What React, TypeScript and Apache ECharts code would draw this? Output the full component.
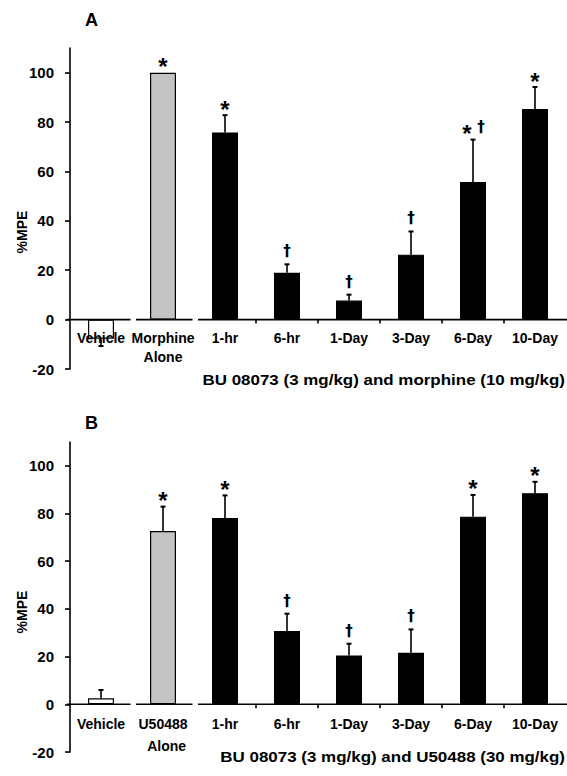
import React, { useEffect, useRef } from "react";
import * as echarts from "echarts";

const categoriesA = ["Vehicle", "Morphine\nAlone", "1-hr", "6-hr", "1-Day", "3-Day", "6-Day", "10-Day"];
const categoriesB = ["Vehicle", "U50488\n  Alone", "1-hr", "6-hr", "1-Day", "3-Day", "6-Day", "10-Day"];
const valuesA = [-7.7, 100, 75.8, 19.0, 7.7, 26.3, 55.7, 85.3];
const errorsA = [3, 0, 7, 3.4, 2.4, 9.4, 17.2, 8.9];
const marksA = ["", "*", "*", "†", "†", "†", "*†", "*"];
const valuesB = [2.5, 72.7, 78.1, 30.7, 20.5, 21.6, 78.7, 88.5];
const errorsB = [3.5, 10.2, 9.5, 7.3, 4.9, 9.8, 9.1, 4.8];
const marksB = ["", "*", "*", "†", "†", "†", "*", "*"];
const groups = ["white", "gray", "black", "black", "black", "black", "black", "black"];
const yTicks = { min: -20, max: 110, interval: 20 };
const segments = [[0, 0, 0], [1, 0, 1], [2, 0, 7]];

const FONT = "Liberation Sans, Arial, sans-serif";
const fillFor: Record<string, string> = { white: "#ffffff", gray: "#c3c3c3", black: "#000000" };

function barData(values: number[]) {
  return values.map((v, i) => ({
    value: v,
    itemStyle: { color: fillFor[groups[i]], borderColor: "#000", borderWidth: 1.2 },
  }));
}

function errorSeries(values: number[], errors: number[], marks: string[], cats: string[], lh: number, axisIndex: number) {
  return {
    type: "custom",
    xAxisIndex: axisIndex,
    yAxisIndex: axisIndex,
    clip: false,
    z: 5,
    itemStyle: { color: "#000" },
    data: values.map((v, i) => [i, v, errors[i]]),
    encode: { x: 0, y: 1 },
    renderItem: (params: any, api: any) => {
      const i = api.value(0);
      const v = api.value(1);
      const e = api.value(2);
      const dir = v < 0 ? -1 : 1;
      const base = api.coord([i, v]);
      const end = api.coord([i, v + dir * e]);
      const zero = api.coord([i, 0]);
      const children: any[] = [];
      if (e > 0) {
        children.push({
          type: "line",
          shape: { x1: base[0], y1: base[1], x2: end[0], y2: end[1] },
          style: { stroke: "#000", lineWidth: 1.6 },
        });
        children.push({
          type: "line",
          shape: { x1: end[0] - 2.5, y1: end[1], x2: end[0] + 2.5, y2: end[1] },
          style: { stroke: "#000", lineWidth: 2 },
        });
      }
      const mark = marks[params.dataIndex];
      const chars = Array.from(mark);
      chars.forEach((ch, k) => {
        const dx = chars.length > 1 ? (k === 0 ? -6 : 8) : 0;
        const isStar = ch === "*";
        children.push({
          type: "text",
          x: end[0] + dx,
          y: end[1] - (isStar ? 6 : 13),
          style: {
            text: ch,
            fill: "#000000",
            font: isStar ? `bold 24px ${FONT}` : `bold 15px DejaVu Sans, ${FONT}`,
            textAlign: "center",
            textVerticalAlign: "middle",
          },
        });
      });
      children.push({
        type: "text",
        x: zero[0],
        y: zero[1] + 9,
        z2: 10,
        style: {
          text: cats[params.dataIndex],
          fill: "#000000",
          font: `bold 14px ${FONT}`,
          lineHeight: lh,
          textAlign: "center",
          textVerticalAlign: "top",
        },
      });
      return { type: "group", children };
    },
  };
}

function axisSegmentSeries(axisIndex: number) {
  return {
    type: "custom",
    xAxisIndex: axisIndex,
    yAxisIndex: axisIndex,
    clip: false,
    z: 6,
    itemStyle: { color: "#000" },
    data: segments,
    renderItem: (params: any, api: any) => {
      const s = api.value(0);
      const e = api.value(2);
      const bw = api.size([1, 0])[0];
      const y = api.coord([s, 0])[1];
      const left = api.coord([s, 0])[0] - bw / 2 + (s === 0 ? -3 : 4);
      const right = api.coord([e, 0])[0] + bw / 2 + (e === 7 ? 1 : -1.5);
      const children: any[] = [
        { type: "line", shape: { x1: left, y1: y, x2: right, y2: y }, style: { stroke: "#000", lineWidth: 1.6 } },
      ];
      for (let k = s; k < e; k++) {
        const x = api.coord([k, 0])[0] + bw / 2;
        children.push({ type: "line", shape: { x1: x, y1: y, x2: x, y2: y + 4 }, style: { stroke: "#000", lineWidth: 1.6 } });
      }
      return { type: "group", children };
    },
  };
}

export default function App() {
  const ref = useRef<HTMLDivElement>(null);
  useEffect(() => {
    if (!ref.current) return;
    const chart = echarts.init(ref.current, undefined, { renderer: "svg" });
    const xAxisCommon = (cats: string[]) => ({
      type: "category",
      data: cats,
      axisLine: { show: false },
      axisTick: { show: false },
      axisLabel: { show: false },
      splitLine: { show: false },
    });
    const yAxisCommon = {
      type: "value",
      min: yTicks.min,
      max: yTicks.max,
      interval: yTicks.interval,
      axisLine: { show: true, lineStyle: { color: "#000", width: 1.6 } },
      axisTick: { show: true, inside: false, length: 5, lineStyle: { color: "#000", width: 1.6 } },
      axisLabel: {
        color: "#000",
        fontFamily: FONT,
        fontWeight: "bold",
        fontSize: 15,
        margin: 16,
        showMaxLabel: false,
      },
      splitLine: { show: false },
    };
    chart.setOption({
      animation: false,
      backgroundColor: "#fff",
      grid: [
        { left: 70, right: 1, top: 48, height: 321 },
        { left: 70, right: 1, top: 442, height: 310 },
      ],
      xAxis: [
        { ...xAxisCommon(categoriesA), gridIndex: 0 },
        { ...xAxisCommon(categoriesB), gridIndex: 1 },
      ],
      yAxis: [
        { ...yAxisCommon, gridIndex: 0 },
        { ...yAxisCommon, gridIndex: 1 },
      ],
      series: [
        { type: "bar", xAxisIndex: 0, yAxisIndex: 0, barWidth: 26, data: barData(valuesA) },
        { type: "bar", xAxisIndex: 1, yAxisIndex: 1, barWidth: 26, data: barData(valuesB) },
        errorSeries(valuesA, errorsA, marksA, categoriesA, 19, 0),
        errorSeries(valuesB, errorsB, marksB, categoriesB, 22, 1),
        axisSegmentSeries(0),
        axisSegmentSeries(1),
      ],
      graphic: [
        { type: "text", left: 85, top: 11, style: { text: "A", font: `bold 18px ${FONT}`, fill: "#000" } },
        { type: "text", left: 85, top: 414, style: { text: "B", font: `bold 18px ${FONT}`, fill: "#000" } },
        {
          type: "text", x: 22, y: 232, rotation: Math.PI / 2,
          style: { text: "%MPE", font: `bold 14px ${FONT}`, fill: "#000", textAlign: "center", textVerticalAlign: "middle" },
        },
        {
          type: "text", x: 22, y: 612, rotation: Math.PI / 2,
          style: { text: "%MPE", font: `bold 14px ${FONT}`, fill: "#000", textAlign: "center", textVerticalAlign: "middle" },
        },
        {
          type: "text", x: 565, y: 380, scaleX: 1.13,
          style: { text: "BU 08073 (3 mg/kg) and morphine (10 mg/kg)", font: `bold 15px ${FONT}`, fill: "#000", textAlign: "right", textVerticalAlign: "middle" },
        },
        {
          type: "text", x: 565, y: 757, scaleX: 1.13,
          style: { text: "BU 08073 (3 mg/kg) and U50488 (30 mg/kg)", font: `bold 15px ${FONT}`, fill: "#000", textAlign: "right", textVerticalAlign: "middle" },
        },
      ],
    });
    return () => chart.dispose();
  }, []);
  return <div ref={ref} style={{ position: "absolute", left: 0, top: 0, width: 567, height: 776 }} />;
}
